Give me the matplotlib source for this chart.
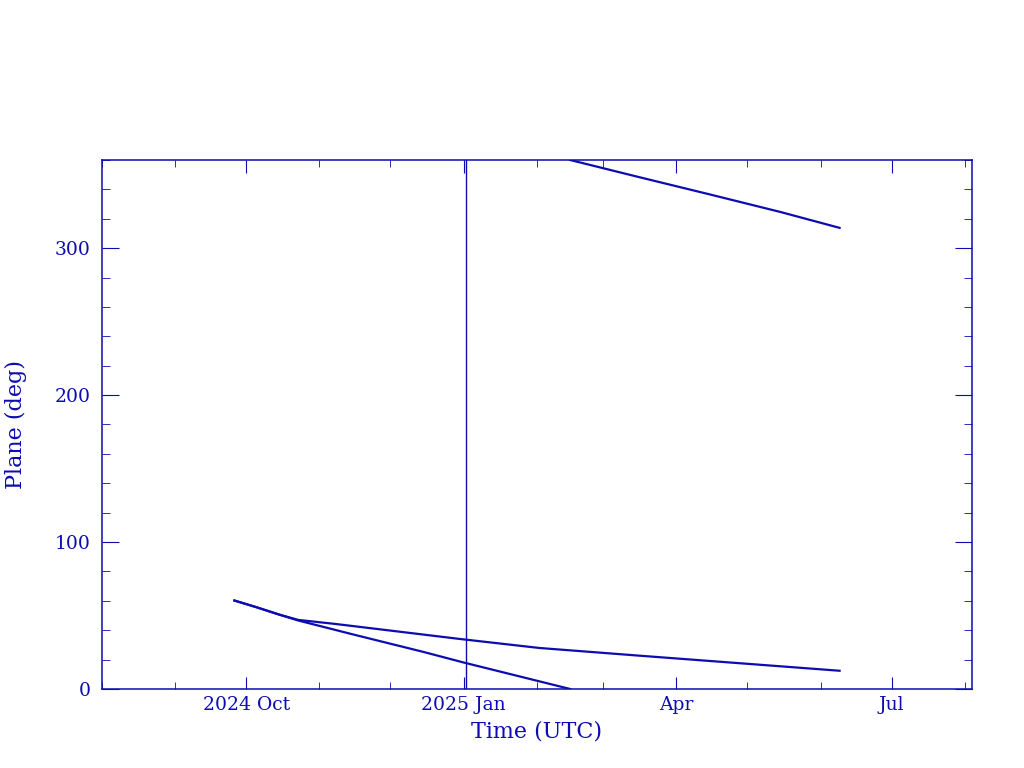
#!/usr/bin/env python3
"""
Plano orbital vs tiempo (estilo PGPLOT)
"""
import datetime as dt

import matplotlib
matplotlib.use('Agg')
import matplotlib.pyplot as plt
import matplotlib.dates as mdates

AZUL = '#0c0cb0'

# Rama rapida (antes del salto 0 -> 360)
fechas_a = ['2024-09-26', '2024-10-05', '2024-10-15', '2024-10-23', '2024-11-15',
            '2024-12-15', '2025-01-01', '2025-02-01', '2025-02-15']
plano_a = [60.2, 55.8, 50.6, 46.6, 37.2, 25.2, 18.0, 5.6, 0.0]

# Rama rapida (despues del salto)
fechas_b = ['2025-02-15', '2025-03-15', '2025-04-15', '2025-05-15', '2025-06-09']
plano_b = [360.0, 348.8, 336.6, 324.6, 313.8]

# Rama lenta
fechas_c = ['2024-09-26', '2024-10-05', '2024-10-15', '2024-10-23', '2024-11-08',
            '2024-12-30', '2025-02-02', '2025-03-16', '2025-06-09']
plano_c = [60.2, 55.8, 50.6, 47.0, 44.2, 34.1, 27.9, 22.7, 12.4]

# Linea vertical (epoca de referencia)
fecha_ref = '2025-01-02'

xlim = ('2024-08-01', '2025-08-04')
ylim = (0, 360)


def a_fechas(lista):
    return [dt.datetime.fromisoformat(s) for s in lista]


def main():
    plt.rcParams['font.family'] = ['DejaVu Serif']

    fig = plt.figure(figsize=(10.24, 7.68), dpi=100)
    ax = fig.add_axes([0.0996, 0.1029, 0.8496, 0.6888])

    for f, v in [(fechas_a, plano_a), (fechas_b, plano_b), (fechas_c, plano_c)]:
        ax.plot(a_fechas(f), v, color=AZUL, linewidth=1.6)

    ax.axvline(dt.datetime.fromisoformat(fecha_ref), color=AZUL, linewidth=1.0)

    ax.set_xlim(*a_fechas(xlim))
    ax.set_ylim(*ylim)

    # Ejes y ticks
    for sp in ax.spines.values():
        sp.set_color(AZUL)
        sp.set_linewidth(1.1)

    ax.xaxis.set_major_locator(mdates.MonthLocator(bymonth=[1, 4, 7, 10]))
    ax.xaxis.set_minor_locator(mdates.MonthLocator())

    def fmt(x, pos):
        d = mdates.num2date(x)
        if d.month == 10 and d.year == 2024 or d.month == 1:
            return d.strftime('%Y %b')
        return d.strftime('%b')
    ax.xaxis.set_major_formatter(plt.FuncFormatter(fmt))

    ax.set_yticks([0, 100, 200, 300])
    ax.set_yticks(range(0, 361, 20), minor=True)

    ax.tick_params(which='both', direction='in', top=True, right=True,
                   color=AZUL, labelcolor=AZUL, labelsize=13.5)
    ax.tick_params(axis='x', which='major', length=9, pad=5)
    ax.tick_params(axis='x', which='minor', length=5)
    ax.tick_params(axis='y', which='major', length=12, pad=8)
    ax.tick_params(axis='y', which='minor', length=6)

    ax.set_xlabel('Time (UTC)', color=AZUL, fontsize=16, labelpad=5)
    ax.set_ylabel('Plane (deg)', color=AZUL, fontsize=16, labelpad=20)

    fig.savefig('out.png', dpi=100)
    plt.close(fig)


if __name__ == '__main__':
    main()
